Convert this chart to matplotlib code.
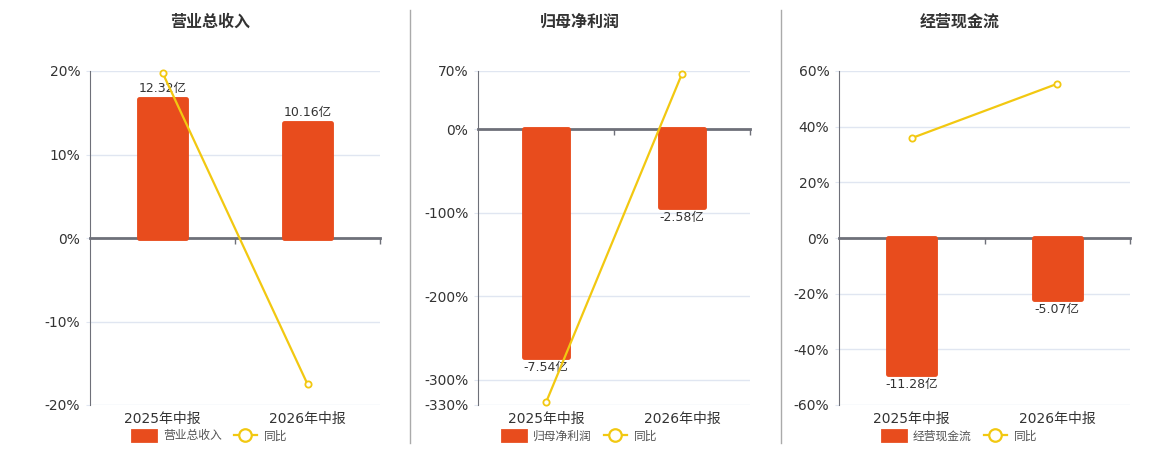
import matplotlib
matplotlib.use('Agg')
import matplotlib.pyplot as plt
from matplotlib.lines import Line2D
from matplotlib.patches import Patch

plt.rcParams['font.family'] = ['DejaVu Sans', 'Noto Sans CJK SC']

# data
periods = ['2025年中报', '2026年中报']
titles = ['营业总收入', '归母净利润', '经营现金流']
bar_vals = [[12.32, 10.16], [-7.54, -2.58], [-11.28, -5.07]]   # 亿
yoy_vals = [[19.8, -17.5], [-327.0, 66.7], [35.9, 55.4]]        # %
pct_ticks = [[-20, -10, 0, 10, 20],
             [-330, -300, -200, -100, 0, 70],
             [-60, -40, -20, 0, 20, 40, 60]]
bar_lims = [(-14.8, 14.8), (-9.15, 1.94), (-13.9, 13.9)]

W, H = 1160, 450
bar_c = '#e84c1d'
line_c = '#f2c811'
axis_c = '#6e7079'
grid_c = '#e0e6f1'
txt_c = '#333333'

fig = plt.figure(figsize=(W / 100, H / 100), dpi=100)

# panel pixel boxes: left, right ; titles/legends centre
boxes = [(90, 380), (478, 750), (839, 1130)]
centres = [210, 580, 960]
top, bot = 71, 405

for i in range(3):
    l, r = boxes[i]
    ax = fig.add_axes([l / W, 1 - bot / H, (r - l) / W, (bot - top) / H])
    ticks = pct_ticks[i]
    ax.set_ylim(ticks[0], ticks[-1])
    ax.set_xlim(-0.5, 1.5)
    ax.set_yticks(ticks)
    ax.set_yticklabels([f'{t}%' for t in ticks])
    ax.set_xticks(range(len(periods)))
    ax.set_xticklabels(periods)
    ax.grid(axis='y', color=grid_c, lw=1)
    ax.set_axisbelow(True)
    for s in ['top', 'right', 'bottom']:
        ax.spines[s].set_visible(False)
    ax.spines['left'].set_color(axis_c)
    ax.tick_params(axis='y', length=3, color=grid_c, labelsize=10, labelcolor=txt_c, pad=4)
    ax.tick_params(axis='x', length=0, labelsize=10, labelcolor=txt_c, pad=5)

    # bars on their own scale (thick round-joined edge gives the rounded corners)
    axb = ax.twinx()
    axb.set_ylim(*bar_lims[i])
    axb.set_xlim(-0.5, 1.5)
    axb.yaxis.set_visible(False)
    for s in ['top', 'right', 'bottom', 'left']:
        axb.spines[s].set_visible(False)
    bars = axb.bar(range(len(periods)), bar_vals[i], width=0.32, color=bar_c,
                   edgecolor=bar_c, linewidth=3.5, joinstyle='round', zorder=2)
    axb.bar_label(bars, labels=[f'{v:.2f}亿' for v in bar_vals[i]],
                  padding=3, fontsize=9, color=txt_c)
    lo, hi = bar_lims[i]
    zf = (0 - lo) / (hi - lo)
    sec = axb.secondary_xaxis(zf)
    sec.set_alignment('bottom')
    sec.set_xticks([0.5, 1.5])
    sec.set_xticklabels([])
    sec.tick_params(length=4, width=1, color=axis_c, labelbottom=False, labeltop=False)
    sec.spines['bottom'].set_color(axis_c)
    sec.spines['bottom'].set_linewidth(2)

    # yoy line
    axl = ax.twinx()
    axl.set_ylim(ticks[0], ticks[-1])
    axl.set_xlim(-0.5, 1.5)
    axl.yaxis.set_visible(False)
    for s in ['top', 'right', 'bottom', 'left']:
        axl.spines[s].set_visible(False)
    axl.plot(range(len(periods)), yoy_vals[i], color=line_c, lw=1.6, marker='o',
             markersize=4.5, markerfacecolor='white', markeredgecolor=line_c,
             markeredgewidth=1.3, clip_on=False)

    fig.text(centres[i] / W, 1 - 22 / H, titles[i], ha='center', va='center',
             fontsize=11.5, fontweight='bold', color=txt_c)

    handles = [Patch(facecolor=bar_c, edgecolor=bar_c, joinstyle='round', linewidth=2),
               Line2D([], [], color=line_c, lw=1.6, marker='o', markersize=9,
                      markerfacecolor='white', markeredgewidth=1.6)]
    fig.legend(handles, [titles[i], '同比'], loc='center',
               bbox_to_anchor=(centres[i] / W, 1 - 436 / H), ncol=2, frameon=False,
               fontsize=8.5, handlelength=2.0, handleheight=1.0,
               handletextpad=0.6, columnspacing=1.0, labelcolor='#555555')

# separators between panels
for x in [410, 781]:
    fig.add_artist(Line2D([x / W, x / W], [1 - 10 / H, 1 - 443 / H], color='#aaaaaa', lw=1))

fig.savefig('out.png', dpi=100)
